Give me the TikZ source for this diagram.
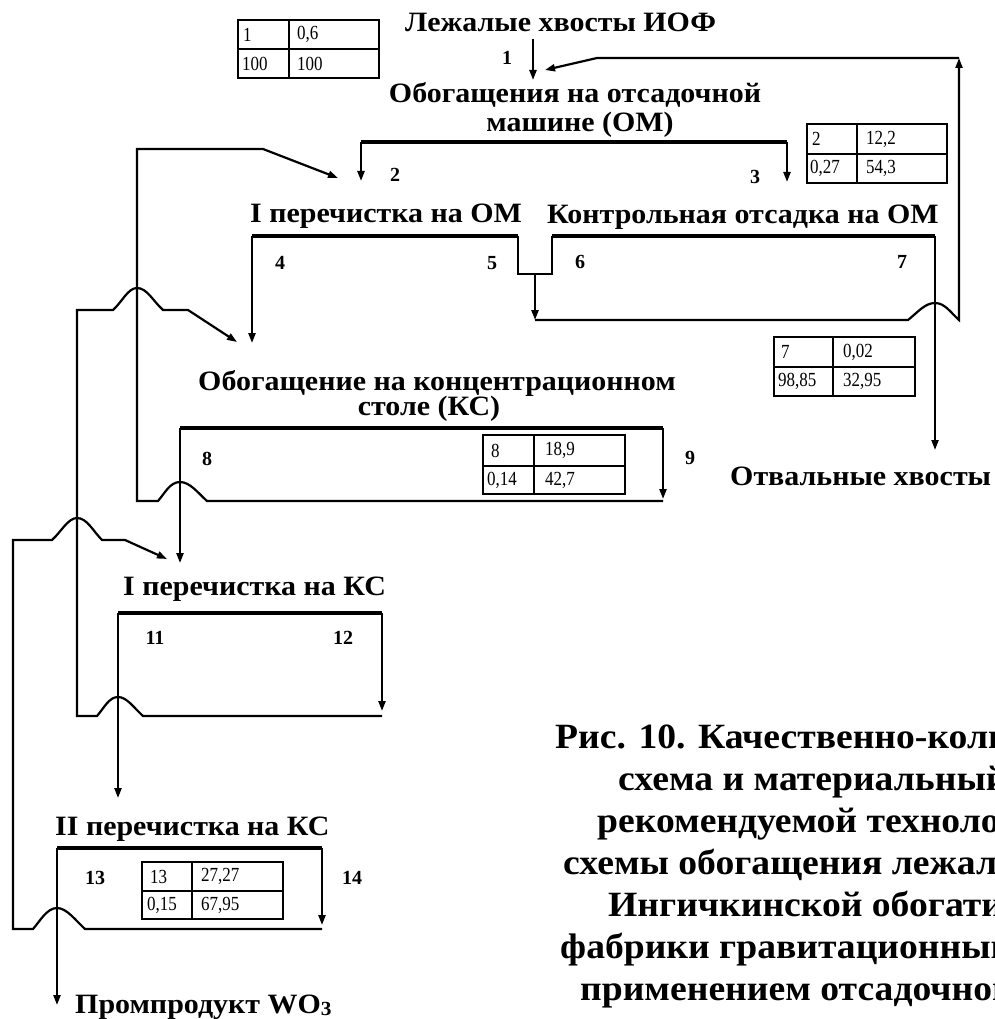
\documentclass[tikz,border=0pt]{standalone}
\usepackage{fontspec}
\setmainfont{Liberation Serif}
\usetikzlibrary{arrows.meta}
\begin{document}
\begin{tikzpicture}[x=1pt,y=-1pt,
  ln/.style={line width=2.2pt},
  thk/.style={line width=4.6pt},
  arr/.style={ln,-{Triangle[length=10pt,width=7pt]}},
  tbl/.style={line width=1.6pt},
  ttl/.style={font=\fontsize{28}{30}\selectfont\bfseries, inner sep=0pt, anchor=base west, xscale=1.07},
  captext/.style={font=\fontsize{35.5}{40}\selectfont\bfseries, inner sep=0pt, anchor=base west, xscale=1.06},
  num/.style={font=\fontsize{20}{20}\selectfont\bfseries, inner sep=0pt},
  cell/.style={font=\fontsize{20}{20}\selectfont, inner sep=0pt, anchor=west, xscale=0.85}]
\useasboundingbox (0,0) rectangle (994,1019);
\clip (0,0) rectangle (994,1019);

% ---------- coordinates ----------
\coordinate (feedTop) at (533,39);  \coordinate (feedIn) at (533,80);
\coordinate (omL) at (361,142);     \coordinate (omR) at (787,142);
\coordinate (p2) at (361,181);      \coordinate (p3) at (787,182);
\coordinate (c1L) at (252,236);     \coordinate (c1R) at (518,236);
\coordinate (p4) at (252,343);
\coordinate (tL) at (518,274);      \coordinate (tR) at (552,274);
\coordinate (tM) at (535,274);      \coordinate (tD) at (535,320);
\coordinate (kL) at (552,236);      \coordinate (kR) at (935,236);
\coordinate (p7) at (935,450);
\coordinate (rA) at (908,320);      \coordinate (rB) at (959,320);
\coordinate (rC) at (959,58);       \coordinate (rD) at (597,58);
\coordinate (rE) at (545,70);
\coordinate (ksL) at (180,428);     \coordinate (ksR) at (663,428);
\coordinate (p8) at (180,563);      \coordinate (p9) at (663,499);
\coordinate (ksB) at (663,501);     \coordinate (ksH) at (207,501);
\coordinate (ksBL) at (137,501);    \coordinate (ksTL) at (137,149);
\coordinate (dA) at (263,149);      \coordinate (dB) at (338,178);
\coordinate (i1L) at (118,613);     \coordinate (i1R) at (382,613);
\coordinate (p11) at (118,798);     \coordinate (p12) at (382,711);
\coordinate (i1B) at (382,716);     \coordinate (i1H) at (143,716);
\coordinate (i1BL) at (77,716);     \coordinate (i1TL) at (77,310);
\coordinate (eA) at (113,310);      \coordinate (eB) at (188,310);
\coordinate (eC) at (237,342);
\coordinate (i2L) at (57,848);      \coordinate (i2R) at (322,848);
\coordinate (p13) at (57,1005);     \coordinate (p14) at (322,925);
\coordinate (i2B) at (322,929);     \coordinate (i2H) at (85,929);
\coordinate (i2BL) at (13,929);     \coordinate (i2TL) at (13,540);
\coordinate (gA) at (52,540);       \coordinate (gB) at (125,540);
\coordinate (gC) at (167,559);

% ---------- jig (OM) ----------
\draw[arr] (feedTop) -- (feedIn);
\draw[thk] (omL) -- (omR);
\draw[arr] (omL) -- (p2);
\draw[arr] (omR) -- (p3);

% ---------- I cleaning OM and control jig ----------
\draw[thk] (c1L) -- (c1R);
\draw[thk] (kL) -- (kR);
\draw[arr] (c1L) -- (p4);
\draw[ln] (c1R) -- (tL) -- (tR) -- (kL);
\draw[arr] (tM) -- (tD);
\draw[arr] (kR) -- (p7);
\draw[arr] (tD) -- (rA) .. controls (918,312) and (925,303) .. (935,303)
   .. controls (945,303) and (951,313) .. (rB) -- (rC);
\draw[arr] (rC) -- (rD) -- (rE);

% ---------- concentration table ----------
\draw[thk] (ksL) -- (ksR);
\draw[arr] (ksR) -- (p9);
\draw[arr] (ksL) -- (p8);
\draw[arr] (ksB) -- (ksH) .. controls (198,493) and (190,482) .. (180,482)
   .. controls (170,482) and (165,493) .. (158,501) -- (ksBL) -- (ksTL) -- (dA) -- (dB);

% ---------- I cleaning KS ----------
\draw[thk] (i1L) -- (i1R);
\draw[arr] (i1R) -- (p12);
\draw[arr] (i1L) -- (p11);
\draw[arr] (i1B) -- (i1H) .. controls (134,708) and (127,697) .. (118,697)
   .. controls (109,697) and (104,708) .. (97,716) -- (i1BL) -- (i1TL) -- (eA)
   .. controls (122,302) and (128,288) .. (137,288)
   .. controls (147,288) and (153,301) .. (163,310) -- (eB) -- (eC);

% ---------- II cleaning KS ----------
\draw[thk] (i2L) -- (i2R);
\draw[arr] (i2R) -- (p14);
\draw[arr] (i2L) -- (p13);
\draw[arr] (i2B) -- (i2H) .. controls (76,921) and (67,908) .. (57,908)
   .. controls (47,908) and (40,921) .. (33,929) -- (i2BL) -- (i2TL) -- (gA)
   .. controls (61,532) and (68,518) .. (77,518)
   .. controls (87,518) and (93,531) .. (102,540) -- (gB) -- (gC);

% ---------- titles ----------
\node[ttl] (tFeed) at (405,32) {Лежалые хвосты ИОФ};
\node[ttl,anchor=base] (tOM1) at (575,103) {Обогащения на отсадочной};
\node[ttl,anchor=base] (tOM2) at (580,132) {машине (ОМ)};
\node[ttl] (tC1) at (250,222) {I перечистка на ОМ};
\node[ttl] (tK) at (547,223) {Контрольная отсадка на ОМ};
\node[ttl,anchor=base] (tKS1) at (437,390) {Обогащение на концентрационном};
\node[ttl,anchor=base] (tKS2) at (429,415) {столе (КС)};
\node[ttl] (tTail) at (730,485) {Отвальные хвосты};
\node[ttl] (tI1) at (123,595) {I перечистка на КС};
\node[ttl] (tI2) at (55,835) {II перечистка на КС};
\node[ttl] (tPP) at (75,1013) {Промпродукт WO\raisebox{-0.2ex}{\fontsize{20}{20}\selectfont 3}};

% ---------- stream numbers ----------
\node[num] (n1) at (507,58) {1};
\node[num] (n2) at (395,175) {2};
\node[num] (n3) at (755,177) {3};
\node[num] (n4) at (280,263) {4};
\node[num] (n5) at (492,263) {5};
\node[num] (n6) at (580,262) {6};
\node[num] (n7) at (902,262) {7};
\node[num] (n8) at (207,459) {8};
\node[num] (n9) at (690,458) {9};
\node[num] (n11) at (155,638) {11};
\node[num] (n12) at (343,638) {12};
\node[num] (n13) at (95,878) {13};
\node[num] (n14) at (352,878) {14};

% ---------- tables ----------
\draw[tbl] (238,20) rectangle (379,78); \draw[tbl] (238,49) -- (379,49); \draw[tbl] (289,20) -- (289,78);
\node[cell] (a1) at (243,34.5) {1};   \node[cell] (a2) at (297,34.5) {0,6};
\node[cell] (a3) at (242,63.5) {100}; \node[cell] (a4) at (297,63.5) {100};

\draw[tbl] (807,124) rectangle (947,183); \draw[tbl] (807,154) -- (947,154); \draw[tbl] (857,124) -- (857,183);
\node[cell] (b1) at (812,139) {2};    \node[cell] (b2) at (866,139) {12,2};
\node[cell] (b3) at (810,168.5) {0,27}; \node[cell] (b4) at (866,168.5) {54,3};

\draw[tbl] (774,337) rectangle (915,396); \draw[tbl] (774,367) -- (915,367); \draw[tbl] (833,337) -- (833,396);
\node[cell] (c1) at (781,352) {7};    \node[cell] (c2) at (843,352) {0,02};
\node[cell] (c3) at (778,381.5) {98,85}; \node[cell] (c4) at (843,381.5) {32,95};

\draw[tbl] (483,435) rectangle (625,494); \draw[tbl] (483,466) -- (625,466); \draw[tbl] (534,435) -- (534,494);
\node[cell] (d1) at (491,450.5) {8};  \node[cell] (d2) at (545,450.5) {18,9};
\node[cell] (d3) at (487,480) {0,14}; \node[cell] (d4) at (545,480) {42,7};

\draw[tbl] (142,862) rectangle (283,919); \draw[tbl] (142,891) -- (283,891); \draw[tbl] (192,862) -- (192,919);
\node[cell] (e1) at (150,876.5) {13}; \node[cell] (e2) at (201,876.5) {27,27};
\node[cell] (e3) at (147,905) {0,15}; \node[cell] (e4) at (201,905) {67,95};

% ---------- caption ----------
\node[captext] (cp1) at (555,748) {Рис. 10. Качественно-коли};
\node[captext] (cp2) at (618,790) {схема и материальный};
\node[captext] (cp3) at (597,832) {рекомендуемой техноло};
\node[captext] (cp4) at (563,874) {схемы обогащения лежал};
\node[captext] (cp5) at (608,916) {Ингичкинской обогати};
\node[captext] (cp6) at (560,958) {фабрики гравитационным};
\node[captext] (cp7) at (580,1000) {применением отсадочной};
\end{tikzpicture}
\end{document}
